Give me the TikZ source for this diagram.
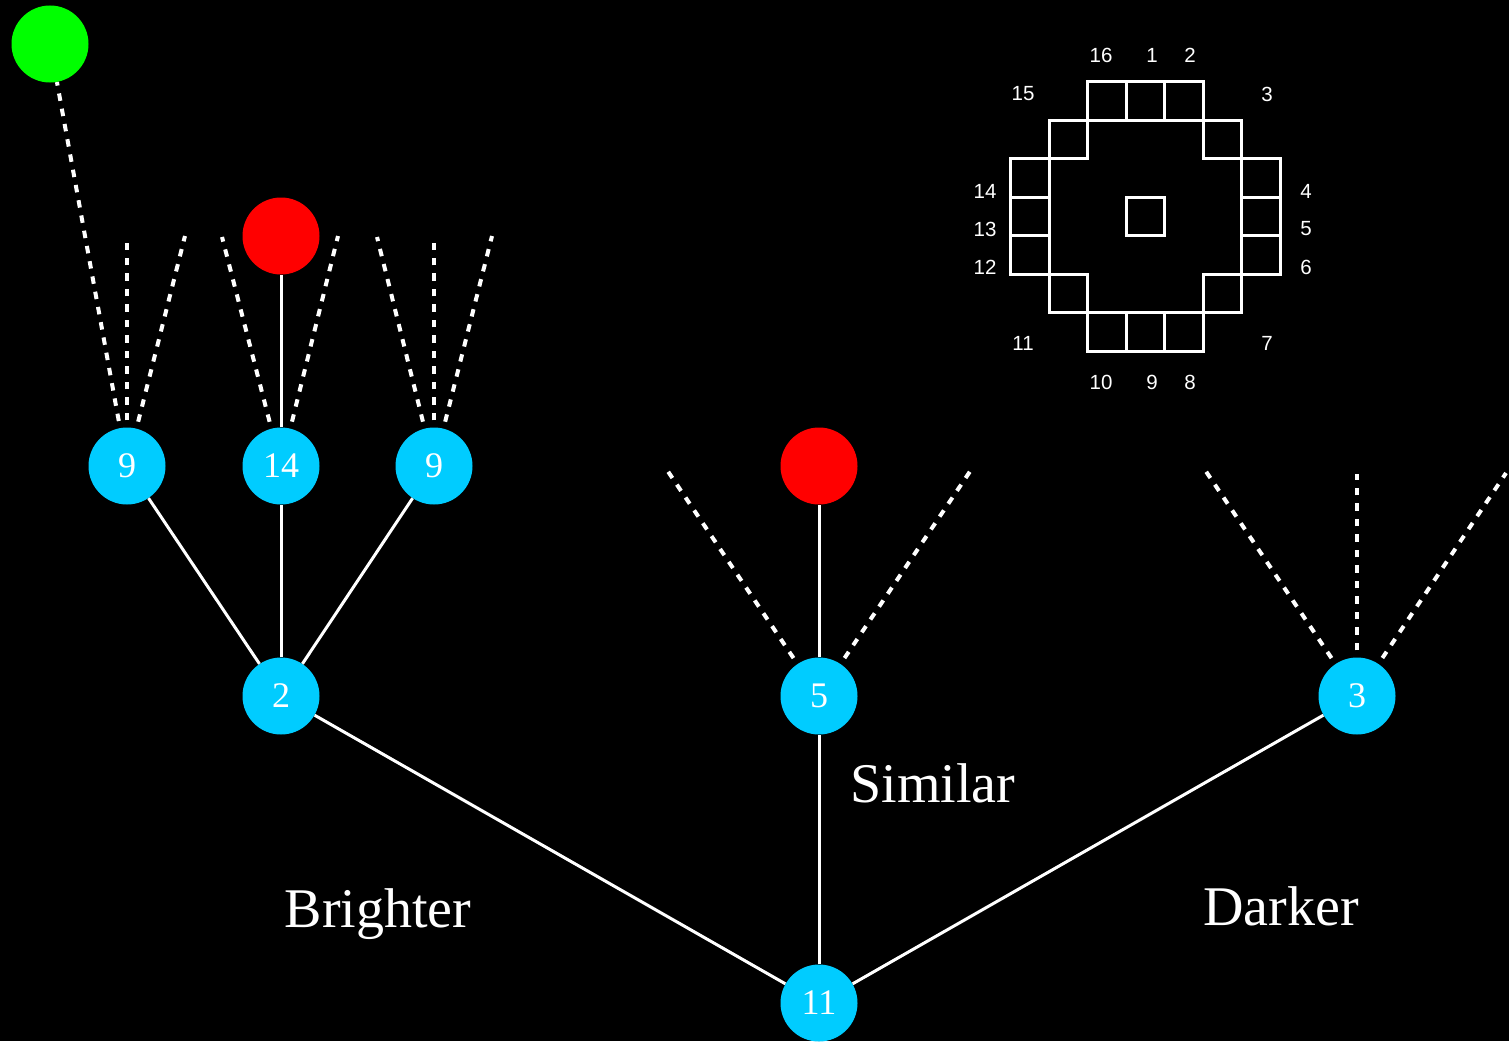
\documentclass[tikz,border=0pt]{standalone}
\usepackage{fontspec}
\setmainfont{Liberation Serif}
\newfontfamily\gridfont{Liberation Sans}
\definecolor{vcyan}{RGB}{0,204,255}
\definecolor{vred}{RGB}{255,0,0}
\definecolor{vgreen}{RGB}{0,255,0}
\tikzset{
  vtx/.style={circle, fill=vcyan, draw=none, minimum size=77pt, inner sep=0pt,
    text=white, font=\fontsize{36}{36}\selectfont},
  redball/.style={circle, fill=vred, draw=none, minimum size=77pt, inner sep=0pt},
  greenball/.style={circle, fill=vgreen, draw=none, minimum size=77pt, inner sep=0pt},
  link/.style={draw=white, line width=3pt},
  hint/.style={draw=white, line width=4pt, dash pattern=on 7.5pt off 8pt},
  caption/.style={text=white, font=\fontsize{56}{56}\selectfont, inner sep=0pt, anchor=base},
  cellnum/.style={text=white, font=\gridfont\fontsize{20.5}{20.5}\selectfont, inner sep=0pt},
  cell/.style={draw=white, line width=3pt}
}
\begin{document}
\begin{tikzpicture}[x=1pt, y=-1pt]
  \fill[black] (0,0) rectangle (1509,1041);
  \useasboundingbox (0,0) rectangle (1509,1041);

  % tree vertices
  \node[vtx] (root) at (819,1003) {11};
  \node[vtx] (b2) at (281,696) {2};
  \node[vtx] (s5) at (819,696) {5};
  \node[vtx] (d3) at (1357,696) {3};
  \node[vtx] (b9a) at (127,466) {9};
  \node[vtx] (b14) at (281,466) {14};
  \node[vtx] (b9b) at (434,466) {9};
  \node[greenball] (goal) at (50,44) {};
  \node[redball] (r14) at (281,236) {};
  \node[redball] (r5) at (819,466) {};

  % solid branches
  \draw[link] (root) -- (b2);
  \draw[link] (root) -- (s5);
  \draw[link] (root) -- (d3);
  \draw[link] (b2) -- (b9a);
  \draw[link] (b2) -- (b14);
  \draw[link] (b2) -- (b9b);
  \draw[link] (b14) -- (r14);
  \draw[link] (s5) -- (r5);

  % open ends of unexplored branches
  \coordinate (e9am) at (127,243);
  \coordinate (e9ar) at (185,236);
  \coordinate (e14l) at (222,237);
  \coordinate (e14r) at (338,236);
  \coordinate (e9bl) at (377,237);
  \coordinate (e9bm) at (434,243);
  \coordinate (e9br) at (492,236);
  \coordinate (e5l) at (665,467);
  \coordinate (e5r) at (973,467);
  \coordinate (e3l) at (1203,467);
  \coordinate (e3m) at (1357,474);
  \coordinate (e3r) at (1506,473);

  % dashed branches
  \draw[hint, shorten <=7pt] (b9a) -- (goal);
  \draw[hint, shorten <=7pt] (b9a) -- (e9am);
  \draw[hint, shorten <=7pt] (b9a) -- (e9ar);
  \draw[hint, shorten <=7pt] (b14) -- (e14l);
  \draw[hint, shorten <=7pt] (b14) -- (e14r);
  \draw[hint, shorten <=7pt] (b9b) -- (e9bl);
  \draw[hint, shorten <=7pt] (b9b) -- (e9bm);
  \draw[hint, shorten <=7pt] (b9b) -- (e9br);
  \draw[hint, shorten <=7pt] (s5) -- (e5l);
  \draw[hint, shorten <=7pt] (s5) -- (e5r);
  \draw[hint, shorten <=7pt] (d3) -- (e3l);
  \draw[hint, shorten <=7pt] (d3) -- (e3m);
  \draw[hint, shorten <=7pt] (d3) -- (e3r);

  % branch captions
  \node[caption] (tb) at (378,927) {Brighter};
  \node[caption] (ts) at (933,802) {Similar};
  \node[caption] (td) at (1281,925) {Darker};

  % ring of 16 pixels around the centre pixel
  \begin{scope}[shift={(1145.5,216.5)}]
    \def\c{38.5}
    \foreach \i/\j in {0/0, -1/-3, 0/-3, 1/-3, 2/-2, 3/-1, 3/0, 3/1, 2/2,
                       1/3, 0/3, -1/3, -2/2, -3/1, -3/0, -3/-1, -2/-2}
      \draw[cell] ({(\i-0.5)*\c},{(\j-0.5)*\c}) rectangle ({(\i+0.5)*\c},{(\j+0.5)*\c});
  \end{scope}

  % pixel numbers
  \node[cellnum] (p1) at (1152,55) {1};
  \node[cellnum] (p2) at (1190,55) {2};
  \node[cellnum] (p3) at (1267,94) {3};
  \node[cellnum] (p4) at (1306,191) {4};
  \node[cellnum] (p5) at (1306,229) {5};
  \node[cellnum] (p6) at (1306,267) {6};
  \node[cellnum] (p7) at (1267,343) {7};
  \node[cellnum] (p8) at (1190,382) {8};
  \node[cellnum] (p9) at (1152,382) {9};
  \node[cellnum] (p10) at (1101,382) {10};
  \node[cellnum] (p11) at (1023,343) {11};
  \node[cellnum] (p12) at (985,267) {12};
  \node[cellnum] (p13) at (985,229) {13};
  \node[cellnum] (p14) at (985,191) {14};
  \node[cellnum] (p15) at (1023,94) {15};
  \node[cellnum] (p16) at (1101,55) {16};
\end{tikzpicture}
\end{document}
